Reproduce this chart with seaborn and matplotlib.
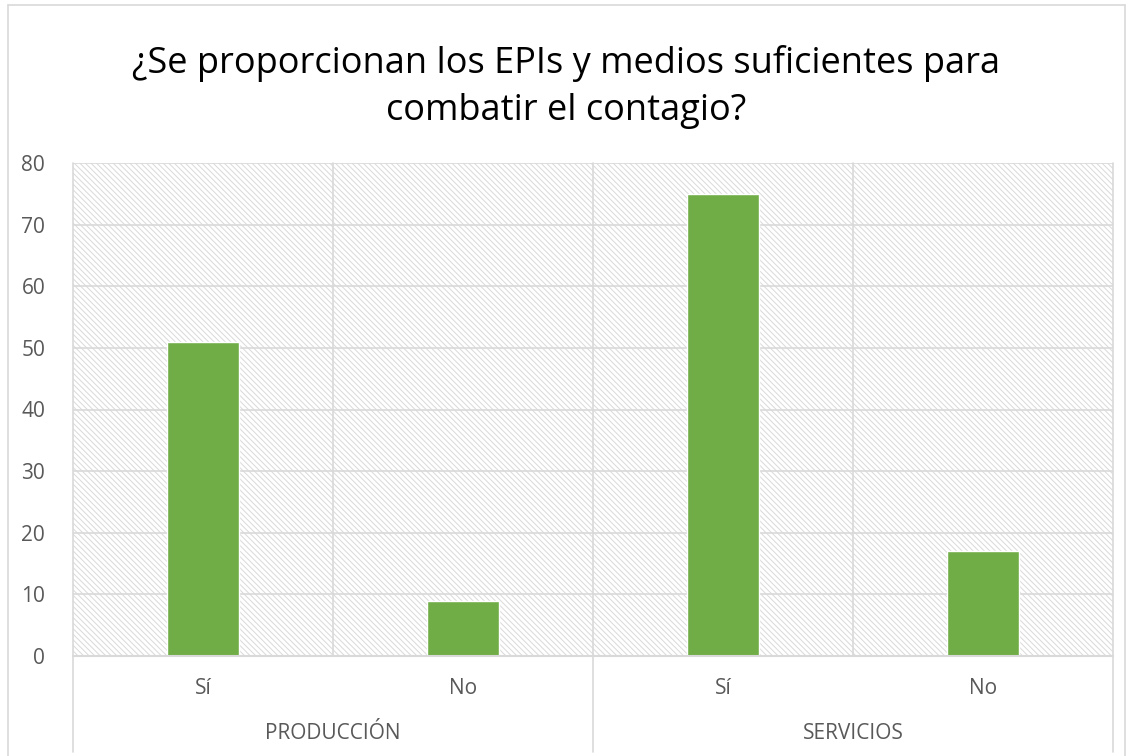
import matplotlib
matplotlib.use("Agg")
import matplotlib.pyplot as plt
from matplotlib.patches import Rectangle
from matplotlib.lines import Line2D
import pandas as pd
import seaborn as sns

# Datos
grupos = ["PRODUCCIÓN", "PRODUCCIÓN", "SERVICIOS", "SERVICIOS"]
respuestas = ["Sí", "No", "Sí", "No"]
valores = [51, 9, 75, 17]
titulo = "¿Se proporcionan los EPIs y medios suficientes para\ncombatir el contagio?"

df = pd.DataFrame({"grupo": grupos, "respuesta": respuestas, "valor": valores})
df["pos"] = [f"{g}|{r}" for g, r in zip(grupos, respuestas)]

sns.set_theme(style="white")
plt.rcParams["font.family"] = ["Open Sans", "DejaVu Sans"]
plt.rcParams["hatch.linewidth"] = 0.7

GRIS = "#d9d9d9"
TEXTO = "#595959"

fig = plt.figure(figsize=(11.33, 7.56), dpi=100)
ax = fig.add_axes([73 / 1133, 1 - 656 / 756, 1040 / 1133, 493 / 756])

# Fondo rayado del área de trazado
ax.add_patch(Rectangle((0, 0), 1, 1, transform=ax.transAxes, facecolor="white",
                       edgecolor=GRIS, hatch="\\\\\\\\\\\\", linewidth=0, zorder=0))

sns.barplot(data=df, x="pos", y="valor", color="#70ad47", saturation=1,
            width=0.28, ax=ax, zorder=3)

ax.set_xlim(-0.5, len(valores) - 0.5)
ax.set_ylim(0, 80)
ax.set_yticks(range(0, 81, 10))
ax.yaxis.grid(True, color=GRIS, linewidth=1.2, zorder=1)
ax.set_axisbelow(False)
for s in ax.spines.values():
    s.set_visible(False)
ax.set_xlabel("")
ax.set_ylabel("")
ax.tick_params(axis="y", length=0, pad=20, labelsize=15, labelcolor=TEXTO)
ax.set_xticks([])

# Líneas verticales entre categorías
tr = ax.get_xaxis_transform()
for i in range(len(valores) + 1):
    x = i - 0.5
    bottom = -0.195 if i % 2 == 0 else 0
    ax.plot([x, x], [bottom, 1], transform=tr, color=GRIS, linewidth=1.2,
            clip_on=False, zorder=2)
ax.plot([-0.5, len(valores) - 0.5], [0, 0], transform=tr, color=GRIS,
        linewidth=1.5, clip_on=False, zorder=4)

# Etiquetas de respuesta y de grupo
for i, r in enumerate(respuestas):
    ax.text(i, -0.065, r, transform=tr, ha="center", va="center",
            fontsize=15, color=TEXTO)
for j, g in enumerate(dict.fromkeys(grupos)):
    ax.text(2 * j + 0.5, -0.157, g, transform=tr, ha="center", va="center",
            fontsize=15, color=TEXTO)

fig.text(0.5, 0.885, titulo, ha="center", va="center", fontsize=26,
         color="#000000", linespacing=1.42)

# Borde de la figura
for xs, ys in [([8, 8], [0, 751]), ([8, 1125], [751, 751]), ([1125, 1125], [0, 751])]:
    fig.add_artist(Line2D([x / 1133 for x in xs], [y / 756 for y in ys],
                          color=GRIS, linewidth=1.2))

fig.savefig("out.png", dpi=100)
